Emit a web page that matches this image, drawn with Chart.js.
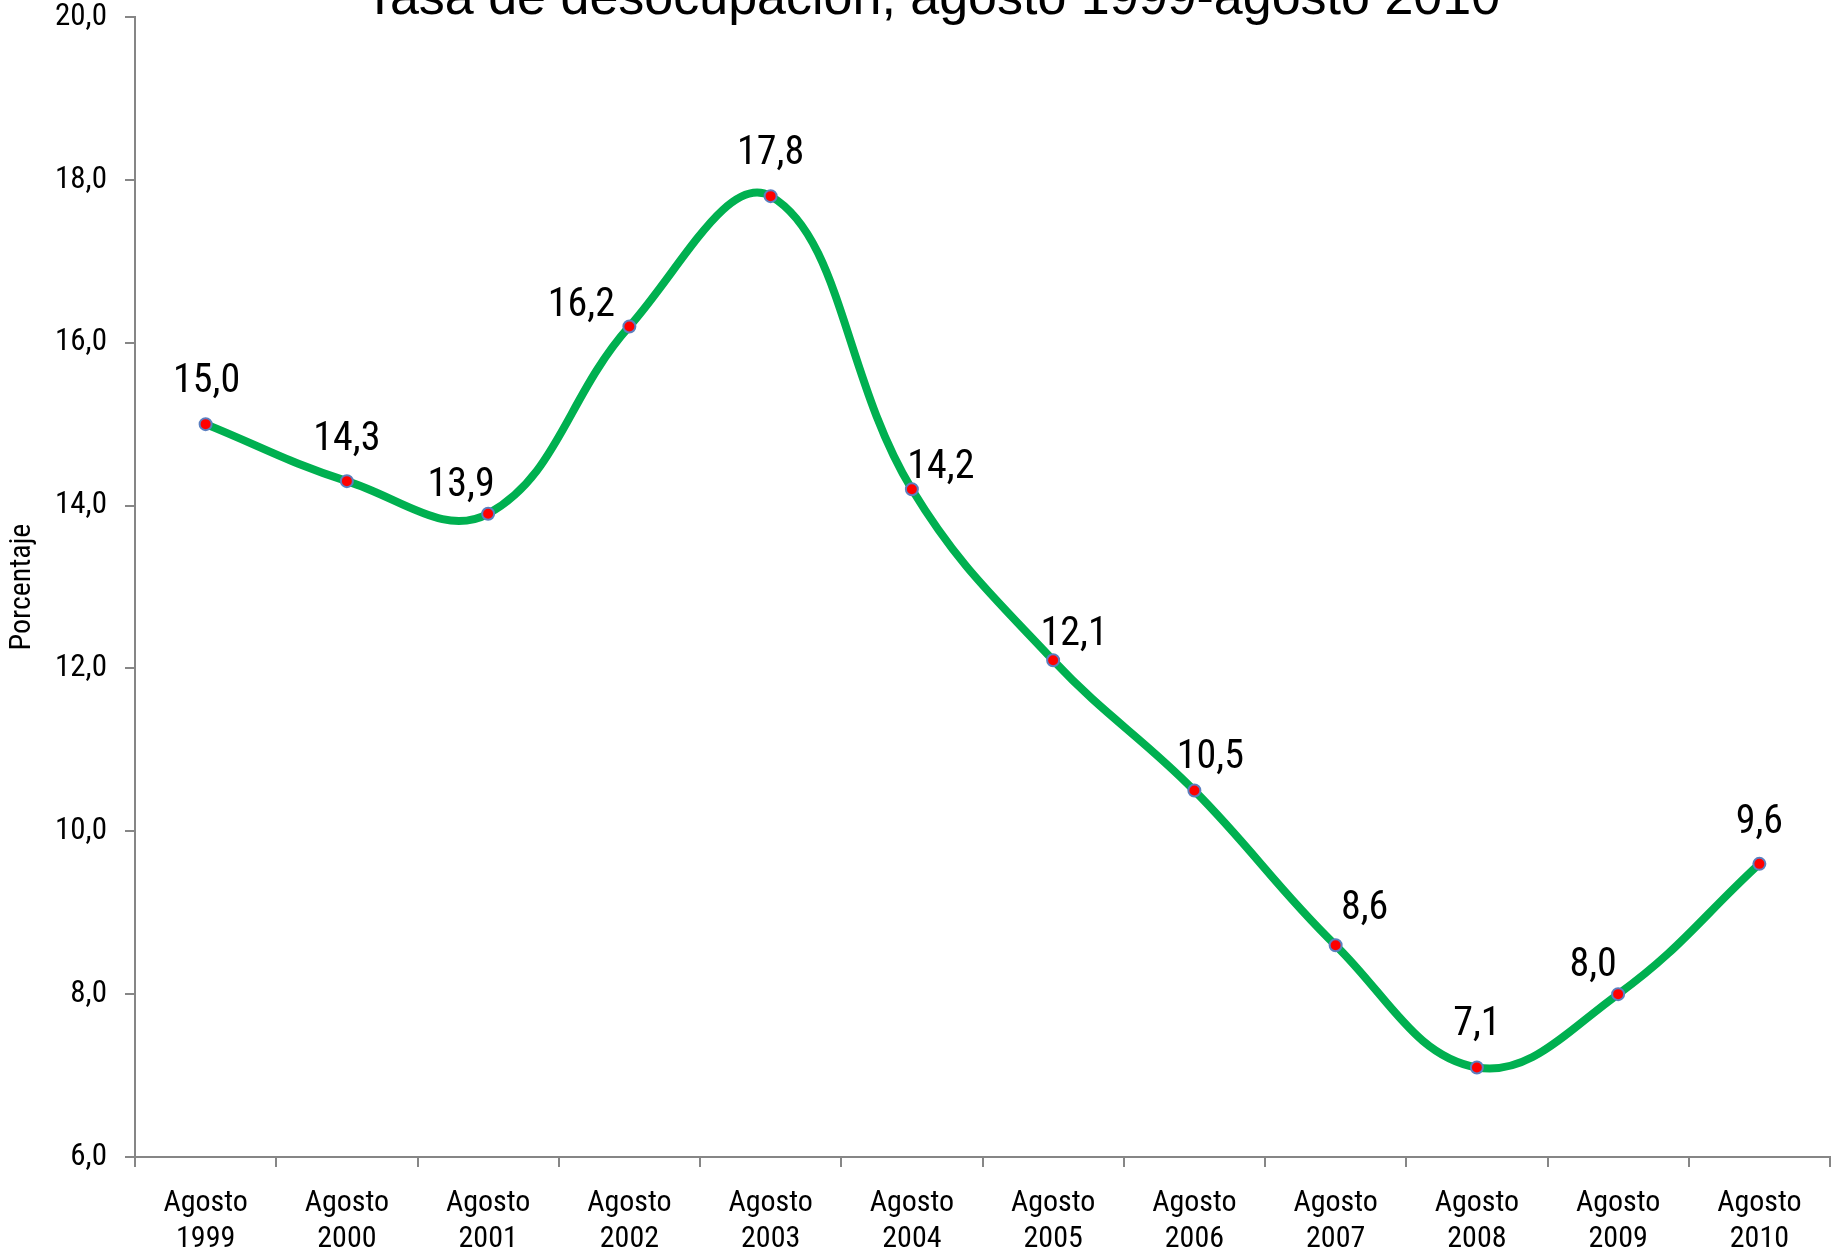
<!DOCTYPE html>
<html>
<head>
<meta charset="utf-8">
<script src="https://cdn.jsdelivr.net/npm/chart.js@4/dist/chart.umd.min.js"></script>
<style>
    html, body { margin: 0; padding: 0; background: #fff; overflow: hidden; }
    #wrap { width: 1838px; height: 1258px; position: relative; }
</style>
</head>
<body>
<div id="wrap"><canvas id="desocupacion"></canvas></div>
<script>
const titleText = 'Tasa de desocupación, agosto 1999-agosto 2010';
const months = ['Agosto', 'Agosto', 'Agosto', 'Agosto', 'Agosto', 'Agosto', 'Agosto', 'Agosto', 'Agosto', 'Agosto', 'Agosto', 'Agosto'];
const years = ['1999', '2000', '2001', '2002', '2003', '2004', '2005', '2006', '2007', '2008', '2009', '2010'];
const tasa = [15.0, 14.3, 13.9, 16.2, 17.8, 14.2, 12.1, 10.5, 8.6, 7.1, 8.0, 9.6];
const yMin = 6;
const yMax = 20;
const yStep = 2;

const NARROW = "'Roboto Condensed', 'Arial Narrow', sans-serif";
const AXIS_COLOR = '#868686';

// where Excel put each data label, relative to its point (px)
const labelShift = [[1, -42], [0, -41], [-27, -28], [-48, -20], [0, -42], [29, -21],
                    [21, -25], [16, -33], [29, -36], [0, -42], [-25, -28], [0, -41]];

function formatComma(v) {
    return Number(v).toFixed(1).replace('.', ',');
}

// labels next to the points
const pointLabels = {
    id: 'pointLabels',
    afterDatasetsDraw(chart) {
        const ctx = chart.ctx;
        const meta = chart.getDatasetMeta(0);
        ctx.save();
        ctx.font = '40px ' + NARROW;
        ctx.fillStyle = '#000';
        ctx.textAlign = 'center';
        ctx.textBaseline = 'middle';
        meta.data.forEach((pt, i) => {
            const shift = labelShift[i] || [0, -40];
            ctx.fillText(formatComma(tasa[i]), pt.x + shift[0], pt.y + shift[1]);
        });
        ctx.restore();
    }
};

// the title sits half off the top of the picture
const topTitle = {
    id: 'topTitle',
    afterDraw(chart) {
        const ctx = chart.ctx;
        ctx.save();
        ctx.font = "52px 'Liberation Sans', Arial, sans-serif";
        ctx.fillStyle = '#000';
        ctx.textAlign = 'center';
        ctx.textBaseline = 'alphabetic';
        ctx.fillText(titleText, 932, 14);
        ctx.restore();
    }
};

const canvas = document.getElementById('desocupacion');

const chart = new Chart(canvas, {
    type: 'line',
    data: {
        labels: months.map((m, i) => [m, years[i]]),
        datasets: [{
            label: 'Tasa de desocupación',
            data: tasa,
            borderColor: '#00B050',
            borderWidth: 8,
            tension: 0.4,
            fill: false,
            pointRadius: 6,
            pointBorderWidth: 2,
            pointBackgroundColor: '#FF0000',
            pointBorderColor: '#5B7FC0',
        }],
    },
    options: {
        responsive: true,
        maintainAspectRatio: false,
        animation: false,
        layout: {
            padding: { left: 0, right: 0, top: 0, bottom: 0 },
        },
        plugins: {
            legend: { display: false },
            tooltip: { enabled: false },
            title: { display: false },
        },
        scales: {
            x: {
                offset: true,
                afterFit(scale) {
                    scale.height = 101;
                    scale.paddingLeft = 0;
                    scale.paddingRight = 0;
                },
                grid: {
                    offset: true,
                    drawOnChartArea: false,
                    drawTicks: true,
                    tickLength: 10,
                    color: AXIS_COLOR,
                    lineWidth: 2,
                },
                border: { display: true, color: AXIS_COLOR, width: 2 },
                ticks: {
                    color: '#000',
                    padding: 18,
                    maxRotation: 0,
                    autoSkip: false,
                    font: { family: NARROW, size: 30, lineHeight: 1.2 },
                },
            },
            y: {
                min: yMin,
                max: yMax,
                afterFit(scale) {
                    scale.width = 135;
                    scale.paddingTop = 17;
                },
                grid: {
                    drawOnChartArea: false,
                    drawTicks: true,
                    tickLength: 10,
                    color: AXIS_COLOR,
                    lineWidth: 2,
                },
                border: { display: true, color: AXIS_COLOR, width: 2 },
                ticks: {
                    stepSize: yStep,
                    color: '#000',
                    padding: 18,
                    font: { family: NARROW, size: 31 },
                    callback: (v) => formatComma(v),
                },
                title: {
                    display: true,
                    text: 'Porcentaje',
                    color: '#000',
                    font: { family: NARROW, size: 30, lineHeight: 1.2 },
                    padding: { top: 4, bottom: 0 },
                },
            },
        },
    },
    plugins: [pointLabels, topTitle],
});
</script>
</body>
</html>
